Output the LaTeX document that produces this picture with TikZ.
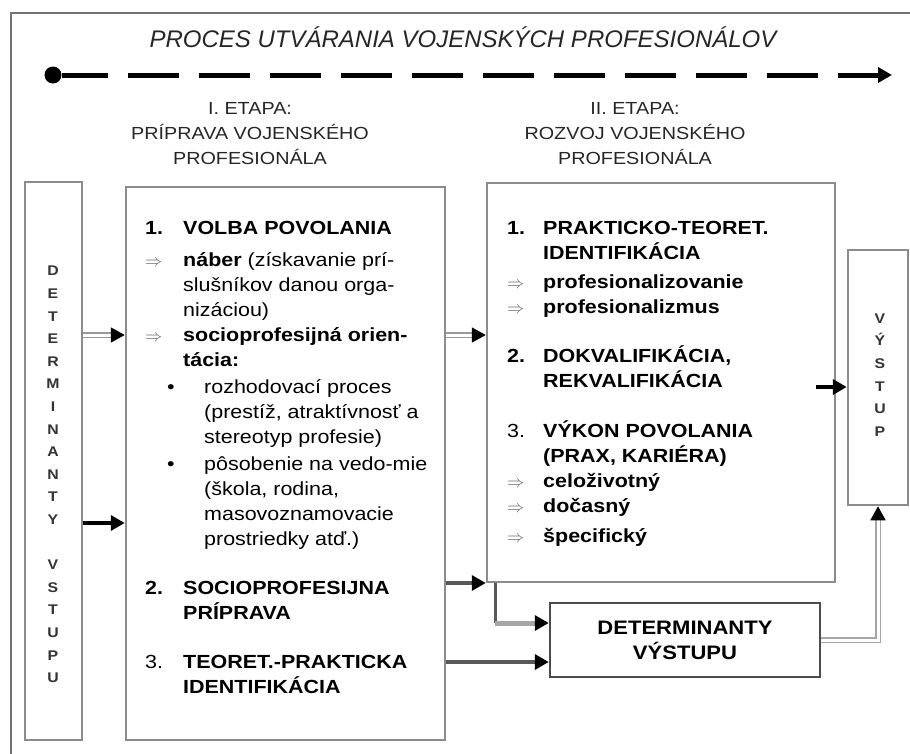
\documentclass[tikz,border=0pt]{standalone}
\usepackage{fontspec}
\setmainfont{Liberation Sans}[FakeStretch=1.13]
\newfontfamily\titlefont{Liberation Sans}
\usetikzlibrary{arrows.meta}

\newcommand{\itm}[1]{\makebox[38pt][l]{#1}}
\newcommand{\ind}{\hspace*{38pt}}
\newcommand{\itmm}[1]{\makebox[36pt][l]{#1}}
\newcommand{\indm}{\hspace*{36pt}}
\newcommand{\bul}{\makebox[59pt][l]{\hspace*{22pt}\textbullet}}
\newcommand{\bind}{\hspace*{59pt}}
\newcommand{\arr}{\textcolor{black!60}{$\Rightarrow$}}

\begin{document}
\begin{tikzpicture}[x=1pt,y=-1pt]
        \tikzstyle{box} = [draw=black!45,line width=2.5pt,inner sep=0pt]
        \tikzstyle{txt} = [inner sep=0pt,anchor=north west,align=left,
          font=\fontsize{19}{25}\selectfont]
        \tikzstyle{head} = [inner sep=0pt,anchor=north,align=center,text=black!85,
          font=\fontsize{17.5}{25}\selectfont]
        \tikzstyle{letters} = [inner sep=0pt,align=center,text=black!80,
          font=\bfseries\fontsize{14}{22.6}\selectfont]
        \tikzstyle{arrowtip} = [-{Triangle[length=14pt,width=15pt,black]}]
        \tikzstyle{dbl} = [arrowtip,draw=black!40,line width=1.7pt,double=white,
          double distance=3pt]
        \useasboundingbox (0,0) rectangle (910,753);
        \draw[black!55,line width=2.5pt] (11,13) rectangle (940,790);
        % title and time line
        \node[text=black!85,font=\titlefont\fontsize{24}{28}\selectfont\itshape]
          (title) at (463,37) {PROCES UTVÁRANIA VOJENSKÝCH PROFESIONÁLOV};
        \node[circle,fill=black,inner sep=0pt,minimum size=17pt] (start) at (53,75) {};
        \coordinate (end) at (892,75);
        \draw[line width=5pt,dash pattern=on 51pt off 20pt,dash phase=5pt,
          -{Triangle[length=14pt,width=15pt]}] (start) -- (end);
        \node[head] (etapa1) at (250,102) {I. ETAPA:\\PRÍPRAVA VOJENSKÉHO\\PROFESIONÁLA};
        \node[head] (etapa2) at (635,102) {II. ETAPA:\\ROZVOJ VOJENSKÉHO\\PROFESIONÁLA};
        % boxes
        \node[box,minimum width=57pt,minimum height=558pt] (vstup) at (53.5,461) {};
        \node[letters] (vstuptxt) at (53,474.5)
          {D\\E\\T\\E\\R\\M\\I\\N\\A\\N\\T\\Y\\[22.6pt]V\\S\\T\\U\\P\\U};
        \node[box,minimum width=319pt,minimum height=553pt] (main) at (285.5,463.5) {};
        \node[box,minimum width=348pt,minimum height=399pt] (mid) at (661,382.5) {};
        \node[box,draw=black!70,minimum width=270pt,minimum height=74pt,align=center,
          font=\bfseries\fontsize{19.5}{25}\selectfont] (dv) at (685,640)
          {DETERMINANTY\\VÝSTUPU};
        \node[box,minimum width=60pt,minimum height=255pt] (vystup) at (878,377.5) {};
        \node[letters] (vystuptxt) at (880,375) {V\\Ý\\S\\T\\U\\P};
        % texts in the two stages
        \node[txt] (maintxt) at (145,221) {%
          \itm{\textbf{1.}}\textbf{VOLBA POVOLANIA}\\[7pt]
          \itm{\arr}\textbf{náber} (získavanie prí-\\
          \ind slušníkov danou orga-\\
          \ind nizáciou)\\
          \itm{\arr}\textbf{socioprofesijná orien-}\\
          \ind\textbf{tácia:}\\[2pt]
          \bul rozhodovací proces\\
          \bind(prestíž, atraktívnosť a\\
          \bind stereotyp profesie)\\[2pt]
          \bul pôsobenie na vedo-mie\\
          \bind(škola, rodina,\\
          \bind masovoznamovacie\\
          \bind prostriedky atď.)\\[24pt]
          \itm{\textbf{2.}}\textbf{SOCIOPROFESIJNA}\\
          \ind\textbf{PRÍPRAVA}\\[24pt]
          \itm{3.}\textbf{TEORET.-PRAKTICKA}\\
          \ind\textbf{IDENTIFIKÁCIA}};
        \node[txt] (midtxt) at (507,221) {%
          \itmm{\textbf{1.}}\textbf{PRAKTICKO-TEORET.}\\
          \indm\textbf{IDENTIFIKÁCIA}\\[4pt]
          \itmm{\arr}\textbf{profesionalizovanie}\\
          \itmm{\arr}\textbf{profesionalizmus}\\[24pt]
          \itmm{\textbf{2.}}\textbf{DOKVALIFIKÁCIA,}\\
          \indm\textbf{REKVALIFIKÁCIA}\\[25pt]
          \itmm{3.}\textbf{VÝKON POVOLANIA}\\
          \indm\textbf{(PRAX, KARIÉRA)}\\
          \itmm{\arr}\textbf{celoživotný}\\
          \itmm{\arr}\textbf{dočasný}\\[5pt]
          \itmm{\arr}\textbf{špecifický}};
        % connectors
        \draw[dbl] (vstup.east |- 0,335) -- (main.west |- 0,335);
        \draw[arrowtip,line width=4pt] (vstup.east |- 0,523) -- (main.west |- 0,523);
        \draw[dbl] (main.east |- 0,335) -- (mid.west |- 0,335);
        \draw[arrowtip,black!65,line width=4pt] (main.east |- 0,583) -- (mid.west |- 0,583);
        \coordinate (branch) at (495,583);
        \draw[black!65,line width=3pt] (branch) -- (branch |- 0,623) coordinate (branchlow);
        \draw[arrowtip,black!35,line width=5pt] (branchlow) -- (dv.west |- branchlow);
        \draw[arrowtip,black!65,line width=4pt] (main.east |- 0,662) -- (dv.west |- 0,662);
        \draw[arrowtip,line width=3.5pt] ([xshift=-20pt]mid.east |- 0,387) -- (vystup.west |- 0,387);
        \draw[dbl,draw=black!35] (dv.east) -| (vystup.south);
      \end{tikzpicture}
\end{document}
